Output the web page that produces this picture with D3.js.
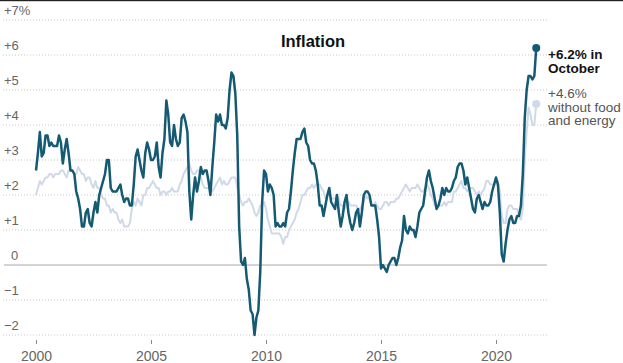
<!DOCTYPE html>
<html><head><meta charset="utf-8">
<script src="https://cdn.jsdelivr.net/npm/d3@7"></script>
<style>html,body{margin:0;padding:0;background:#fff;}svg{display:block;}</style>
</head><body>
<svg id="c" width="623" height="363"></svg>
<script>
const startYear = 2000;
const headline = [
2.7,3.2,3.8,3.1,3.2,3.7,3.7,3.4,3.5,3.4,3.4,3.4,
3.7,3.5,2.9,3.3,3.6,3.2,2.7,2.7,2.6,2.1,1.9,1.6,
1.1,1.1,1.5,1.6,1.2,1.1,1.5,1.8,1.5,2.0,2.2,2.4,
2.6,3.0,3.0,2.2,2.1,2.1,2.1,2.2,2.3,2.0,1.8,1.9,
1.9,1.7,1.7,2.3,3.1,3.3,3.0,2.7,2.5,3.2,3.5,3.3,
3.0,3.0,3.1,3.5,2.8,2.5,3.2,3.6,4.7,4.3,3.5,3.4,
4.0,3.6,3.4,3.5,4.2,4.3,4.1,3.8,2.1,1.3,2.0,2.5,
2.1,2.4,2.8,2.6,2.7,2.7,2.4,2.0,2.8,3.5,4.3,4.1,
4.3,4.0,4.0,3.9,4.2,5.0,5.5,5.4,4.9,3.7,1.1,0.1,
0.0,0.2,-0.4,-0.7,-1.3,-1.4,-2.0,-1.5,-1.3,-0.2,1.8,2.7,
2.6,2.1,2.3,2.2,2.0,1.1,1.2,1.1,1.1,1.2,1.1,1.5,
1.6,2.1,2.7,3.2,3.6,3.6,3.6,3.8,3.9,3.5,3.4,3.0,
2.9,2.9,2.7,2.3,1.7,1.7,1.4,1.7,2.0,2.2,1.8,1.7,
1.6,2.0,1.5,1.1,1.4,1.8,2.0,1.5,1.2,1.0,1.2,1.5,
1.6,1.1,1.5,2.0,2.1,2.1,2.0,1.7,1.7,1.7,1.3,0.8,
-0.1,0.0,-0.1,-0.2,0.0,0.1,0.2,0.2,0.0,0.2,0.5,0.7,
1.4,1.0,0.9,1.1,1.0,1.0,0.8,1.1,1.5,1.6,1.7,2.1,
2.5,2.7,2.4,2.2,1.9,1.6,1.7,1.9,2.2,2.0,2.2,2.1,
2.1,2.2,2.4,2.5,2.8,2.9,2.9,2.7,2.3,2.5,2.2,1.9,
1.6,1.5,1.9,2.0,1.8,1.6,1.8,1.7,1.7,1.8,2.1,2.3,
2.5,2.3,1.5,0.3,0.1,0.6,1.0,1.3,1.4,1.2,1.2,1.4,
1.4,1.7,2.6,4.2,5.0,5.4,5.4,5.3,5.4,6.2];
const core = [
2.0,2.2,2.4,2.3,2.4,2.5,2.5,2.6,2.6,2.5,2.6,2.6,
2.6,2.7,2.7,2.6,2.5,2.7,2.7,2.7,2.6,2.6,2.8,2.7,
2.6,2.6,2.4,2.5,2.5,2.3,2.2,2.4,2.2,2.2,2.0,1.9,
1.9,1.7,1.7,1.5,1.6,1.5,1.5,1.3,1.2,1.3,1.1,1.1,
1.1,1.2,1.6,1.8,1.7,1.9,1.8,1.7,2.0,2.0,2.2,2.2,
2.3,2.4,2.3,2.2,2.2,2.0,2.1,2.1,2.0,2.1,2.1,2.2,
2.1,2.1,2.1,2.3,2.4,2.6,2.7,2.8,2.9,2.7,2.6,2.6,
2.7,2.7,2.5,2.3,2.2,2.2,2.2,2.1,2.1,2.2,2.3,2.4,
2.5,2.3,2.4,2.3,2.3,2.4,2.5,2.5,2.5,2.2,2.0,1.8,
1.7,1.8,1.8,1.9,1.8,1.7,1.5,1.4,1.5,1.7,1.7,1.8,
1.6,1.3,1.1,0.9,0.9,0.9,0.9,0.9,0.8,0.6,0.8,0.8,
1.0,1.1,1.2,1.3,1.5,1.6,1.8,2.0,2.0,2.1,2.2,2.2,
2.3,2.2,2.3,2.3,2.3,2.2,2.1,1.9,2.0,2.0,1.9,1.9,
1.9,2.0,1.9,1.7,1.7,1.6,1.7,1.8,1.7,1.7,1.7,1.7,
1.6,1.6,1.7,1.8,2.0,1.9,1.9,1.7,1.7,1.8,1.7,1.6,
1.6,1.7,1.8,1.8,1.7,1.8,1.8,1.8,1.9,1.9,2.0,2.1,
2.2,2.3,2.2,2.1,2.2,2.2,2.2,2.3,2.2,2.1,2.1,2.2,
2.3,2.2,2.0,1.9,1.7,1.7,1.7,1.7,1.7,1.8,1.7,1.8,
1.8,1.8,2.1,2.1,2.2,2.3,2.4,2.2,2.2,2.1,2.2,2.2,
2.2,2.1,2.0,2.1,2.0,2.1,2.2,2.4,2.4,2.3,2.3,2.3,
2.3,2.4,2.1,1.4,1.2,1.2,1.6,1.7,1.7,1.6,1.6,1.6,
1.4,1.3,1.6,3.0,3.8,4.5,4.3,4.0,4.0,4.6];
const yTicks = [7,6,5,4,3,2,1,0,-1,-2];
const yTickLabels = ["+7%","+6","+5","+4","+3","+2","+1","0","\u22121","\u22122"];
const xTicks = [2000,2005,2010,2015,2020];
const title = "Inflation";
const headlineNote = ["+6.2% in","October"];
const coreNote = ["+4.6%","without food","and energy"];

const svg = d3.select("#c");
const x = d3.scaleLinear().domain([2000,2022]).range([36,542]);
const y = d3.scaleLinear().domain([-2,7]).range([335,20]);
const t = i => startYear + i/12;
const FONT = "Liberation Sans, Arial, sans-serif";

svg.append("rect").attr("x",0).attr("y",0).attr("width",623).attr("height",1.2).attr("fill","#222");

// gridlines
svg.append("g").selectAll("line").data(yTicks.filter(d=>d!==0)).join("line")
  .attr("x1",3).attr("x2",547).attr("y1",d=>y(d)).attr("y2",d=>y(d))
  .attr("stroke","#c8c8c8").attr("stroke-width",1).attr("stroke-dasharray","1,2");
svg.append("line").attr("x1",4).attr("x2",547).attr("y1",y(0)).attr("y2",y(0))
  .attr("stroke","#aaa").attr("stroke-width",1.2);

// y labels
svg.append("g").selectAll("text").data(yTicks).join("text")
  .attr("x",d=>d===0?11:4).attr("y",d=>y(d)-5)
  .attr("font-family",FONT).attr("font-size",13)
  .attr("fill","#666").text((d,i)=>yTickLabels[i]);

// x axis
const xa = svg.append("g").attr("transform","translate(0,340)")
  .call(d3.axisBottom(x).tickValues(xTicks).tickFormat(d3.format("d")).tickSize(4).tickPadding(7));
xa.select(".domain").remove();
xa.selectAll("line").attr("stroke","#888");
xa.selectAll("text").attr("font-family",FONT).attr("font-size",14).attr("fill","#666");

// lines
const line = d3.line().x((d,i)=>x(t(i))).y(d=>y(d)).curve(d3.curveLinear);
svg.append("path").datum(core).attr("d",line).attr("fill","none")
  .attr("stroke","#d0d9e8").attr("stroke-width",2).attr("stroke-linejoin","round");
svg.append("path").datum(headline).attr("d",line).attr("fill","none")
  .attr("stroke","#145a73").attr("stroke-width",2.5).attr("stroke-linejoin","round");

const lc = core.length-1, lh = headline.length-1;
svg.append("circle").attr("cx",x(t(lc))).attr("cy",y(core[lc])).attr("r",4).attr("fill","#d0d9e8");
svg.append("circle").attr("cx",x(t(lh))).attr("cy",y(headline[lh])).attr("r",4).attr("fill","#145a73");

// title
svg.append("text").attr("x",313).attr("y",47).attr("text-anchor","middle")
  .attr("font-family",FONT).attr("font-weight","bold")
  .attr("font-size",16.5).attr("fill","#111").text(title);

// annotations
svg.append("g").selectAll("text").data(headlineNote).join("text")
  .attr("x",548).attr("y",(d,i)=>59+i*14)
  .attr("font-family",FONT).attr("font-weight","bold")
  .attr("font-size",13.5).attr("fill","#111").text(d=>d);
svg.append("g").selectAll("text").data(coreNote).join("text")
  .attr("x",548).attr("y",(d,i)=>98+i*13.5)
  .attr("font-family",FONT)
  .attr("font-size",13.5).attr("fill","#555").text(d=>d);
</script>
</body></html>
